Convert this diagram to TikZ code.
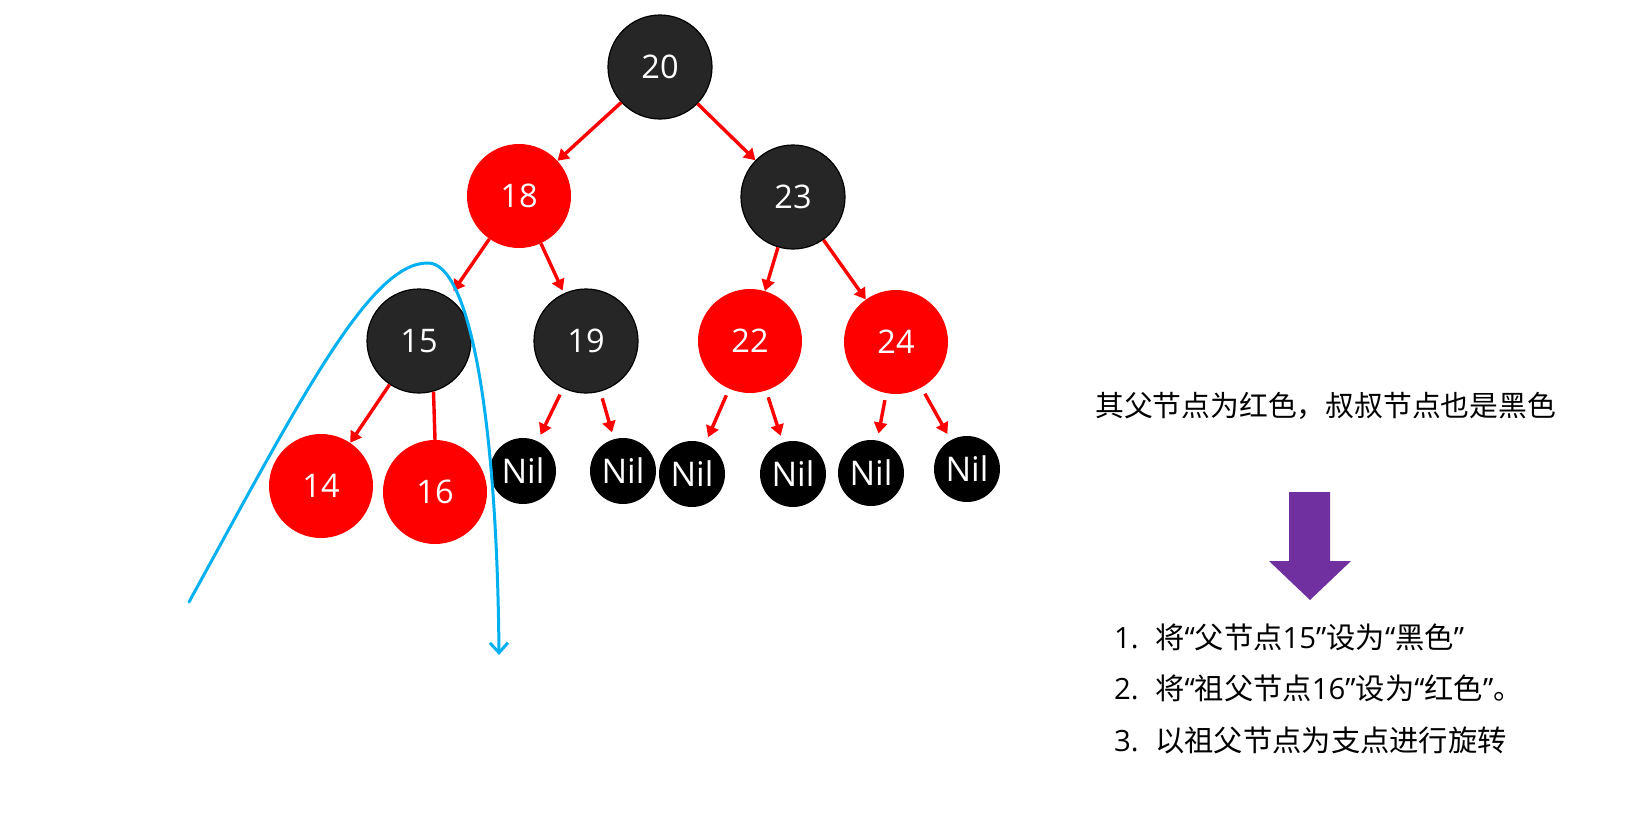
\documentclass[tikz,border=0pt]{standalone}
\usepackage{fontspec}
\setmainfont{Open Sans}
\newfontfamily\cjk{Noto Sans CJK SC}
\usetikzlibrary{arrows.meta}
\definecolor{nred}{HTML}{FF0000}
\definecolor{ndark}{HTML}{262626}
\definecolor{cblue}{HTML}{00B0F0}
\definecolor{apurple}{HTML}{7030A0}
\tikzset{
  numfont/.style={font=\fontsize{32.5}{38}\selectfont},
  rednode/.style={circle, fill=nred, minimum size=104pt, inner sep=0pt, text=white, numfont},
  darknode/.style={circle, fill=ndark, draw=black, line width=1.2pt, minimum size=104pt, inner sep=0pt, text=white, numfont},
  nilnode/.style={circle, fill=black, minimum size=66pt, inner sep=0pt, text=white, font=\fontsize{34}{40}\selectfont},
  redarrow/.style={draw=nred, line width=3.4pt, -{Triangle[length=11pt,width=13pt]}},
  txt/.style={inner sep=0pt, font=\fontsize{28.8}{34}\selectfont, text=black},
  listtxt/.style={inner sep=0pt, font=\fontsize{29.3}{35}\selectfont, text=black},
}
\begin{document}
\begin{tikzpicture}[x=1pt,y=-1pt]
\useasboundingbox[fill=white] (0,0) rectangle (1647,827);
% nodes
\node[darknode] (n20) at (660,67) {20};
\node[rednode]  (n18) at (519,196) {18};
\node[darknode] (n23) at (793,197) {23};
\node[darknode] (n15) at (419,341) {15};
\node[darknode] (n19) at (586,341) {19};
\node[rednode]  (n22) at (750,341) {22};
\node[rednode]  (n24) at (896,342) {24};
\node[rednode]  (n14) at (321,486) {14};
\node[rednode]  (n16) at (435,492) {16};
\node[nilnode] (nil1) at (523,471) {Nil};
\node[nilnode] (nil2) at (623,471) {Nil};
\node[nilnode] (nil3) at (692,474) {Nil};
\node[nilnode] (nil4) at (793,474) {Nil};
\node[nilnode] (nil5) at (871,473) {Nil};
\node[nilnode] (nil6) at (967,469) {Nil};
% edges
\draw[redarrow] (n20) -- (n18);
\draw[redarrow] (n20) -- (n23);
\draw[redarrow, shorten >=8pt] (n18) -- (n15);
\draw[redarrow, shorten >=3pt] (n18) -- (n19);
\draw[redarrow] (n23) -- (n22);
\draw[redarrow] (n23) -- (n24);
\draw[redarrow] (n15) -- (n14);
\draw[draw=nred, line width=3.4pt] (n15.-74) -- (n16.north);
\draw[redarrow, shorten <=7pt, shorten >=7pt] (n19) -- (nil1);
\draw[redarrow, shorten <=7pt, shorten >=7pt] (n19) -- (nil2);
\draw[redarrow, shorten <=7pt, shorten >=7pt] (n22) -- (nil3);
\draw[redarrow, shorten <=7pt, shorten >=7pt] (n22) -- (nil4);
\draw[redarrow, shorten <=7pt, shorten >=7pt] (n24) -- (nil5);
\draw[redarrow, shorten <=7pt, shorten >=7pt] (n24) -- (nil6);
% blue rotation curve
\coordinate (cs) at (189,602);
\coordinate (cp) at (428,263);
\coordinate (ce) at (499,655);
\draw[cblue, line width=3pt, line cap=round, -{Straight Barb[length=10pt,width=18pt,line width=3pt]}]
  (cs) .. controls (300,400) and (370,262) .. (cp) .. controls (470,263) and (497,420) .. (ce);
% text
\node[txt, anchor=base west] (cond) at (1095,416) {\cjk 其父节点为红色，叔叔节点也是黑色};
\fill[apurple] (1289,492) -- (1330,492) -- (1330,561) -- (1351,561) -- (1310,600) -- (1269,561) -- (1289,561) -- cycle;
\node[listtxt, anchor=base west] (s1) at (1114,648) {\makebox[41pt][l]{1.}{\cjk 将}“{\cjk 父节点}15”{\cjk 设为}“{\cjk 黑色}”};
\node[listtxt, anchor=base west] (s2) at (1114,699) {\makebox[41pt][l]{2.}{\cjk 将}“{\cjk 祖父节点}16”{\cjk 设为}“{\cjk 红色}”{\cjk 。}};
\node[listtxt, anchor=base west] (s3) at (1114,751) {\makebox[41pt][l]{3.}{\cjk 以祖父节点为支点进行旋转}};
\end{tikzpicture}
\end{document}
